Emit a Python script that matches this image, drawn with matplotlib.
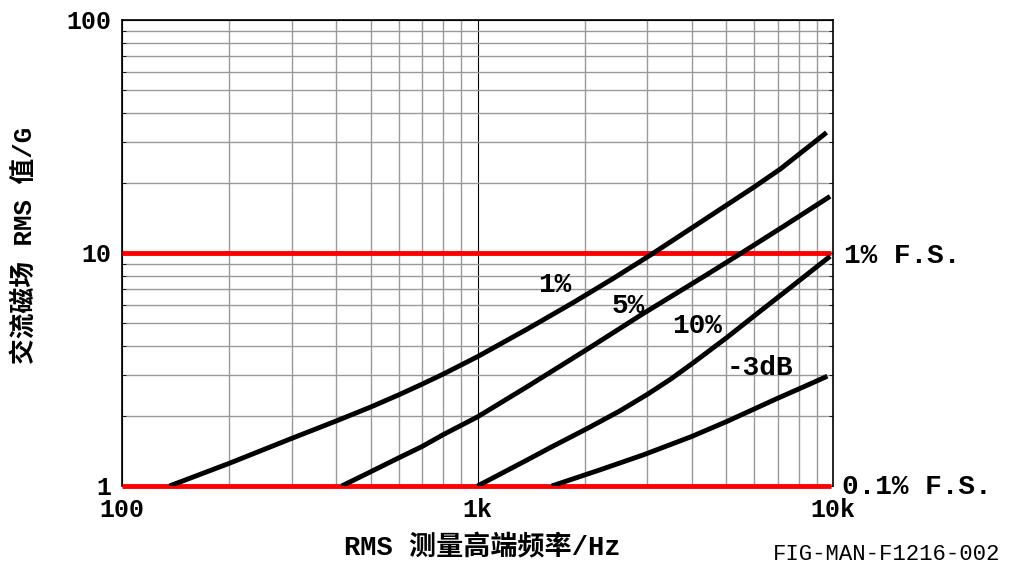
import numpy as np
import matplotlib.pyplot as plt
from matplotlib.ticker import LogLocator, NullFormatter, FixedLocator, FixedFormatter

plt.rcParams['font.family'] = ['Liberation Mono', 'Noto Sans CJK SC', 'DejaVu Sans']

# curves (frequency Hz, field G)
f_1pct = [136, 200, 300, 400, 500, 600, 700, 800, 1000, 1375, 1860, 2410, 3055, 4315, 5970, 7100, 9590]
b_1pct = [1.0, 1.25, 1.60, 1.90, 2.18, 2.46, 2.74, 3.02, 3.59, 4.70, 6.13, 7.78, 9.77, 13.8, 19.1, 22.9, 32.9]
f_5pct = [415, 500, 600, 700, 800, 1000, 1375, 2028, 2927, 4315, 5470, 7250, 9810]
b_5pct = [1.0, 1.15, 1.32, 1.48, 1.66, 1.98, 2.66, 3.85, 5.5, 7.9, 9.9, 13.0, 17.5]
f_10pct = [1000, 1375, 1600, 2028, 2500, 3000, 3500, 4045, 5020, 6233, 7250, 8250, 9810]
b_10pct = [1.0, 1.29, 1.46, 1.76, 2.09, 2.47, 2.88, 3.38, 4.33, 5.62, 6.73, 7.86, 9.68]
f_3db = [1617, 2200, 2927, 4000, 5020, 6000, 6945, 8200, 9640]
b_3db = [1.0, 1.17, 1.36, 1.63, 1.89, 2.14, 2.37, 2.65, 2.96]

curves = [(f_1pct, b_1pct), (f_5pct, b_5pct), (f_10pct, b_10pct), (f_3db, b_3db)]
curve_labels = ['1%', '5%', '10%', '-3dB']
label_pos = [(1652, 7.29), (2650, 5.93), (4140, 4.86), (6240, 3.21)]

fs_levels = [10, 1]
fs_labels = ['1% F.S.', '0.1% F.S.']

fig = plt.figure(figsize=(10.1, 5.68), dpi=100)
ax = fig.add_axes([0.1208, 0.1444, 0.7040, 0.8204])
ax.set_xscale('log')
ax.set_yscale('log')
ax.set_xlim(100, 10000)
ax.set_ylim(1, 100)

# grid
ax.xaxis.set_minor_locator(LogLocator(base=10, subs=np.arange(2, 10)))
ax.yaxis.set_minor_locator(LogLocator(base=10, subs=np.arange(2, 10)))
ax.xaxis.set_minor_formatter(NullFormatter())
ax.yaxis.set_minor_formatter(NullFormatter())
ax.grid(which='minor', color='#999999', lw=1.0)
ax.grid(which='major', color='#000000', lw=0.8)
ax.set_axisbelow(True)

for lv in fs_levels:
    ax.plot([100, 9850], [lv, lv], color='#ff0000', lw=3.5, solid_capstyle='butt', zorder=3, clip_on=False)

for (f, b) in curves:
    ax.plot(f, b, color='black', lw=3.5, solid_capstyle='butt', solid_joinstyle='round', zorder=4)

for lab, (x, y) in zip(curve_labels, label_pos):
    ax.text(x, y, lab, fontsize=20, fontweight='bold', ha='center', va='center', zorder=5)

ax.text(10000 * 1.075, 9.75, fs_labels[0], fontsize=20, fontweight='bold', ha='left', va='center')
ax.text(10000 * 1.06, 0.99, fs_labels[1], fontsize=20, fontweight='bold', ha='left', va='center',
        clip_on=False)

ax.xaxis.set_major_locator(FixedLocator([100, 1000, 10000]))
ax.xaxis.set_major_formatter(FixedFormatter(['100', '1k', '10k']))
ax.yaxis.set_major_locator(FixedLocator([1, 10, 100]))
ax.yaxis.set_major_formatter(FixedFormatter(['1', '10', '100']))
for t in ax.get_xticklabels() + ax.get_yticklabels():
    t.set_fontweight('bold')
    t.set_fontsize(18)
ax.tick_params(axis='x', which='both', length=0, pad=9)
ax.tick_params(axis='y', which='both', direction='in', length=3, right=True, pad=8)

for s in ax.spines.values():
    s.set_linewidth(1.2)
ax.spines['bottom'].set_visible(False)

fig.text(482 / 1010, 1 - 548 / 568, 'RMS 测量高端频率/Hz', fontsize=19.5, fontweight='bold',
         ha='center', va='center')
fig.text(24 / 1010, 1 - 245 / 568, '交流磁场 RMS 值/G', fontsize=18.5, fontweight='bold',
         ha='center', va='center', rotation=90)

fig.text(0.99, 1 - 554 / 568, 'FIG-MAN-F1216-002', fontsize=16, ha='right', va='center')

fig.savefig('out.png', dpi=100)
